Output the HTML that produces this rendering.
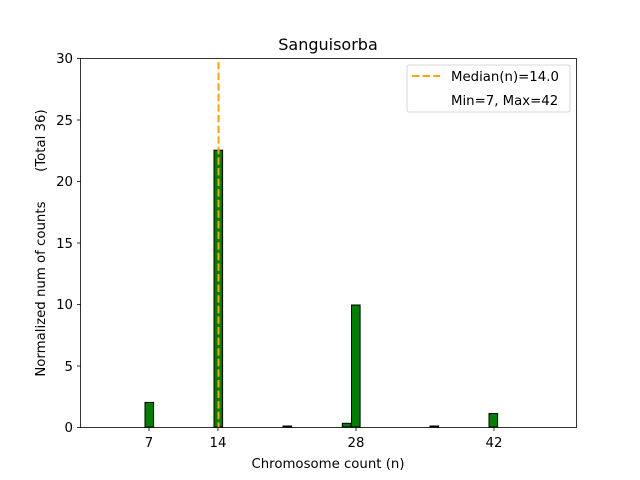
<!DOCTYPE html>
<html><head><meta charset="utf-8"><style>body{margin:0;background:#fff}svg{display:block}text{font-family:"DejaVu Sans","Liberation Sans",sans-serif;font-size:13.3px;fill:#000;white-space:pre}</style></head>
<body>
<svg width="640" height="480" viewBox="0 0 640 480" xmlns="http://www.w3.org/2000/svg">
<rect width="640" height="480" fill="#fff"/>
<g stroke="#000" stroke-width="1" fill="#008000">
<rect x="145" y="402.4" width="8.6" height="24.6"/>
<rect x="214" y="150.2" width="8.6" height="276.8"/>
<rect x="283" y="426" width="8.6" height="1"/>
<rect x="342.3" y="423.3" width="8.6" height="3.7"/>
<rect x="351.5" y="305" width="8.6" height="122"/>
<rect x="430" y="426" width="8.6" height="1"/>
<rect x="489" y="413.5" width="8.6" height="13.5"/>
</g>
<line x1="218.5" y1="62" x2="218.5" y2="427" stroke="#FFA500" stroke-width="2" stroke-dasharray="7.4,3.2"/>
<rect x="80.5" y="58.5" width="496" height="369" fill="none" stroke="#000" stroke-width="0.8"/>
<g stroke="#000" stroke-width="0.8">
<line x1="149" y1="427.5" x2="149" y2="431"/><line x1="218" y1="427.5" x2="218" y2="431"/>
<line x1="356" y1="427.5" x2="356" y2="431"/><line x1="494" y1="427.5" x2="494" y2="431"/>
<line x1="77" y1="427.5" x2="80.5" y2="427.5"/><line x1="77" y1="366" x2="80.5" y2="366"/>
<line x1="77" y1="304.5" x2="80.5" y2="304.5"/><line x1="77" y1="243" x2="80.5" y2="243"/>
<line x1="77" y1="181.5" x2="80.5" y2="181.5"/><line x1="77" y1="120" x2="80.5" y2="120"/>
<line x1="77" y1="58.5" x2="80.5" y2="58.5"/>
</g>
<g text-anchor="middle">
<text x="149" y="447">7</text><text x="218" y="447">14</text><text x="356" y="447">28</text><text x="494" y="447">42</text>
<text x="328" y="468">Chromosome count (n)</text>
<text x="328" y="50" style="font-size:16px">Sanguisorba</text>
</g>
<g text-anchor="end">
<text x="73" y="432">0</text><text x="73" y="371">5</text><text x="73" y="309">10</text><text x="73" y="248">15</text><text x="73" y="186">20</text><text x="73" y="125">25</text><text x="73" y="63">30</text>
</g>
<text transform="translate(45,243) rotate(-90)" text-anchor="middle" xml:space="preserve">Normalized num of counts       (Total 36)</text>
<rect x="407" y="65" width="163" height="47" rx="2" fill="#fff" stroke="#ccc" stroke-width="0.8"/>
<line x1="412" y1="76" x2="440" y2="76" stroke="#FFA500" stroke-width="2" stroke-dasharray="7.4,3.2"/>
<text x="451" y="81">Median(n)=14.0</text>
<text x="451" y="105">Min=7, Max=42</text>
</svg>
</body></html>
